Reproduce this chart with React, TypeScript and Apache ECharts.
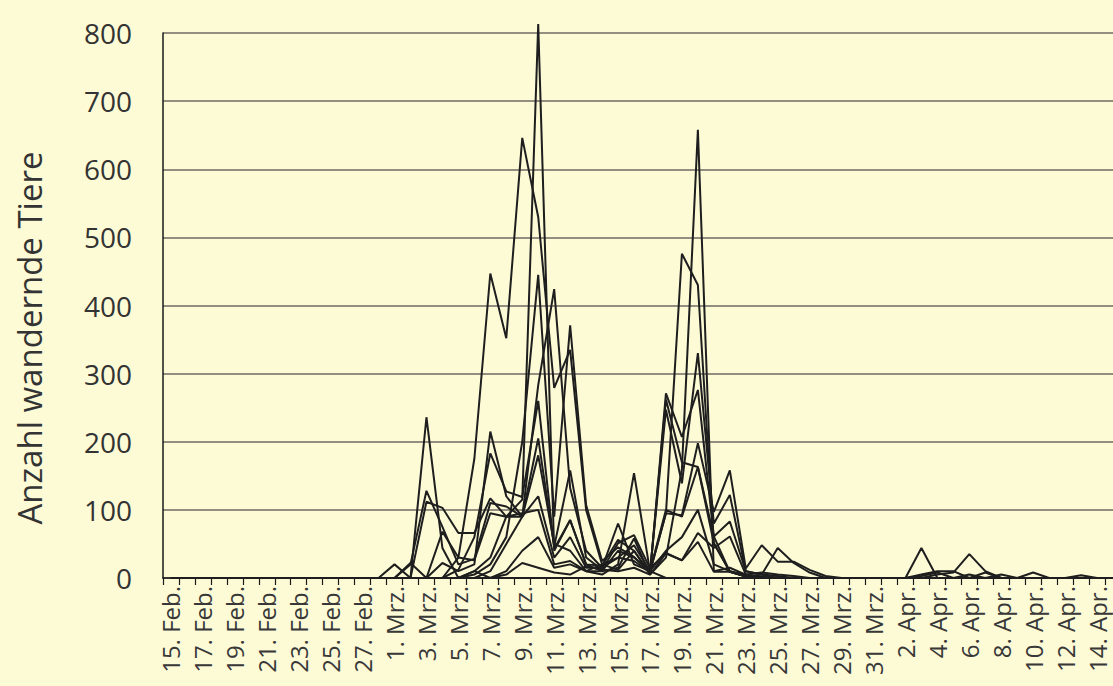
import React, { useEffect, useRef } from "react";
import * as echarts from "echarts";

const categories: string[] = [
  "15. Feb.", "16. Feb.", "17. Feb.", "18. Feb.", "19. Feb.", "20. Feb.", "21. Feb.", "22. Feb.", "23. Feb.", "24. Feb.", "25. Feb.", "26. Feb.", "27. Feb.", "28. Feb.",
  "1. Mrz.", "2. Mrz.", "3. Mrz.", "4. Mrz.", "5. Mrz.", "6. Mrz.", "7. Mrz.", "8. Mrz.", "9. Mrz.", "10. Mrz.",
  "11. Mrz.", "12. Mrz.", "13. Mrz.", "14. Mrz.", "15. Mrz.", "16. Mrz.", "17. Mrz.", "18. Mrz.", "19. Mrz.", "20. Mrz.",
  "21. Mrz.", "22. Mrz.", "23. Mrz.", "24. Mrz.", "25. Mrz.", "26. Mrz.", "27. Mrz.", "28. Mrz.", "29. Mrz.", "30. Mrz.", "31. Mrz.",
  "1. Apr.", "2. Apr.", "3. Apr.", "4. Apr.", "5. Apr.", "6. Apr.", "7. Apr.", "8. Apr.", "9. Apr.", "10. Apr.",
  "11. Apr.", "12. Apr.", "13. Apr.", "14. Apr.", "15. Apr.",
];

const yTicks: number[] = [0, 100, 200, 300, 400, 500, 600, 700, 800];
const yAxisTitle = "Anzahl wandernde Tiere";

// each series: 14 Feb days (15.–28. Feb), 31 Mrz days, 15 Apr days
const site1: number[] = [0,0,0,0,0,0,0,0,0,0,0,0,0,0, 0,0,0,0,30,175,447,352,646,530,279,335,100,20,12,40,5,271,207,276,61,83,10,5,3,0,0,0,0,0,0, 0,0,0,0,0,0,0,0,0,0,0,0,0,0,0];
const site2: number[] = [0,0,0,0,0,0,0,0,0,0,0,0,0,0, 0,0,0,0,0,10,30,90,115,813,40,85,20,10,15,58,5,30,160,658,10,15,5,0,0,0,0,0,0,0,0, 0,0,0,0,0,0,0,0,0,0,0,0,0,0,0];
const site3: number[] = [0,0,0,0,0,0,0,0,0,0,0,0,0,0, 0,0,0,0,0,5,20,60,200,445,90,371,107,25,45,31,8,247,139,330,80,122,10,5,0,0,0,0,0,0,0, 0,0,0,0,0,0,0,0,0,0,0,0,0,0,0];
const site4: number[] = [0,0,0,0,0,0,0,0,0,0,0,0,0,0, 0,0,0,0,0,0,10,50,90,283,424,132,40,15,30,48,10,95,92,198,97,158,14,48,24,24,12,3,0,0,0, 0,0,0,0,0,0,0,0,0,0,0,0,0,0,0];
const site5: number[] = [0,0,0,0,0,0,0,0,0,0,0,0,0,0, 0,0,0,22,10,20,215,120,90,205,46,158,30,12,51,63,14,37,26,66,44,61,5,2,0,0,0,0,0,0,0, 0,0,0,0,0,0,0,0,0,0,0,0,0,0,0];
const site6: number[] = [0,0,0,0,0,0,0,0,0,0,0,0,0,0, 0,0,0,0,12,60,183,127,119,260,43,85,20,18,56,40,7,262,170,163,51,9,3,0,0,0,0,0,0,0,0, 0,0,0,0,0,0,0,0,0,0,0,0,0,0,0];
const site7: number[] = [0,0,0,0,0,0,0,0,0,0,0,0,0,0, 0,0,236,44,0,10,0,10,40,60,15,20,10,5,20,154,10,0,0,0,0,0,0,0,0,0,0,0,0,0,0, 0,0,44,0,0,0,0,0,0,0,0,0,0,0,0];
const site8: number[] = [0,0,0,0,0,0,0,0,0,0,0,0,0,0, 0,20,128,75,20,28,110,105,90,120,30,60,15,15,80,20,10,100,90,163,61,9,2,0,0,0,0,0,0,0,0, 0,0,0,5,8,35,10,0,0,0,0,0,0,0,0];
const site9: number[] = [0,0,0,0,0,0,0,0,0,0,0,0,0,0, 0,0,112,103,66,66,117,90,90,180,50,40,10,10,40,30,10,40,60,100,20,10,2,5,44,22,8,0,0,0,0, 0,0,5,10,10,0,8,0,0,0,0,0,0,0,0];
const site10: number[] = [0,0,0,0,0,0,0,0,0,0,0,0,0,0, 20,0,0,0,0,0,0,5,22,15,8,5,17,12,10,15,5,36,26,53,9,9,2,0,0,0,0,0,0,0,0, 0,0,0,0,0,0,0,0,0,8,0,0,0,0,0];
const site11: number[] = [0,0,0,0,0,0,0,0,0,0,0,0,0,0, 0,22,0,68,30,26,95,90,95,100,20,25,10,20,30,25,8,95,476,430,51,10,5,8,5,3,0,0,0,0,0, 0,0,0,0,0,0,0,0,0,0,0,0,4,0,0];
const site12: number[] = [0,0,0,0,0,0,0,0,0,0,0,0,0,0, 0,0,0,0,0,0,0,0,0,0,0,0,0,0,0,0,0,0,0,0,0,0,0,0,0,0,0,0,0,0,0, 0,0,3,8,0,5,0,5,0,0,0,0,0,0,0];

const allSites: number[][] = [site1, site2, site3, site4, site5, site6, site7, site8, site9, site10, site11, site12];

const FONT = "'Open Sans', 'Noto Sans', sans-serif";

export default function App() {
  const ref = useRef<HTMLDivElement>(null);

  useEffect(() => {
    if (!ref.current) return;
    const chart = echarts.init(ref.current, undefined, { renderer: "svg" });
    chart.setOption({
      animation: false,
      backgroundColor: "#fdfbd6",
      grid: { left: 163, top: 33, right: 9, bottom: 108, containLabel: false },
      graphic: [
        {
          type: "text",
          x: 29,
          y: 338,
          rotation: Math.PI / 2,
          style: {
            text: yAxisTitle,
            fontSize: 33,
            fontFamily: FONT,
            fill: "#333",
            textAlign: "center",
            textVerticalAlign: "middle",
          },
        },
      ],
      xAxis: {
        type: "category",
        data: categories,
        boundaryGap: true,
        axisLine: { show: true, lineStyle: { color: "#1a1a1a", width: 1.5 } },
        axisTick: { show: true, length: 7, interval: 0, lineStyle: { color: "#1a1a1a", width: 1.2 } },
        axisLabel: {
          interval: 1,
          rotate: 90,
          margin: 8,
          fontSize: 24,
          color: "#383838",
          fontFamily: FONT,
        },
        splitLine: { show: false },
      },
      yAxis: {
        type: "value",
        min: yTicks[0],
        max: yTicks[yTicks.length - 1],
        interval: 100,
        axisLine: { show: true, lineStyle: { color: "#1a1a1a", width: 1.5 } },
        axisTick: { show: false },
        axisLabel: { margin: 31, fontSize: 28, color: "#333", fontFamily: FONT },
        splitLine: { show: true, lineStyle: { color: "#6f6a62", width: 1.5 } },
      },
      series: allSites.map((d, i) => ({
        name: "Standort " + (i + 1),
        type: "line",
        data: d,
        symbol: "none",
        clip: false,
        lineStyle: { color: "#1e1e1e", width: 2 },
        z: 3,
      })),
    });
    return () => chart.dispose();
  }, []);

  return (
    <div style={{ position: "fixed", left: 0, top: 0, width: 1113, height: 686, overflow: "hidden", background: "#fdfbd6" }}>
      <div ref={ref} style={{ width: 1130, height: 686 }} />
    </div>
  );
}
